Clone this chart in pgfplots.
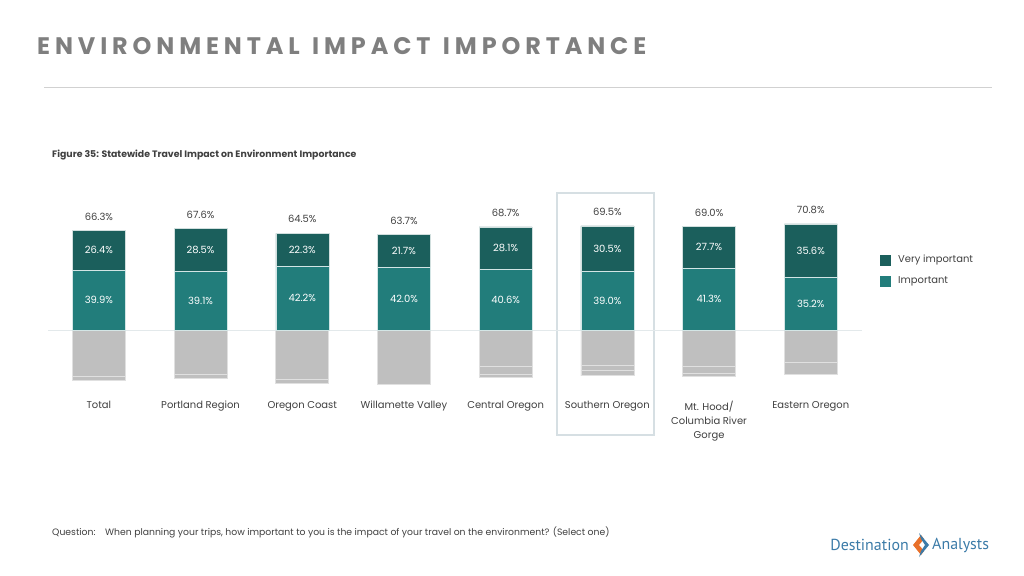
\documentclass[border=0pt]{standalone}
\usepackage{fontspec}
\setmainfont{Poppins}
\newfontfamily\logofont{PT Sans}
\usepackage{pgfplots}
\pgfplotsset{compat=1.18}
\usepackage{pgfplotstable}
\definecolor{vimp}{HTML}{1B5F5C}
\definecolor{imp}{HTML}{227D7B}
\definecolor{grayb}{HTML}{BFBFBF}
\definecolor{txt}{HTML}{404040}
\definecolor{titlec}{HTML}{7F7F7F}
\definecolor{framec}{HTML}{D6DFE3}
\definecolor{basec}{HTML}{E3E9EB}
\definecolor{logob}{HTML}{3B7BA8}
\definecolor{logoo}{HTML}{E8702A}

\pgfplotstableread{
x imp vi tot g1 g2 g3
0 39.9 26.4 66.3 -30.8 -2.9 0
1 39.1 28.5 67.6 -29.3 -3.1 0
2 42.2 22.3 64.5 -32.7 -2.8 0
3 42.0 21.7 63.7 -36.3 0 0
4 40.6 28.1 68.7 -24.0 -5.3 -2.0
5 39.0 30.5 69.5 -23.3 -3.8 -3.4
6 41.3 27.7 69.0 -24.0 -4.9 -2.1
7 35.2 35.6 70.8 -21.5 -7.7 0
}\data

\pgfplotsset{base/.style={
  scale only axis, width=813.6bp, height=185bp,
  at={(48bp,-395bp)}, anchor=south west,
  xmin=-0.5, xmax=7.5, ymin=-43.3333, ymax=80,
  axis line style={draw=none}, tick style={draw=none},
  ytick=\empty, xtick=\empty, clip=false,
  bar width=53bp,
}}

\begin{document}
\begin{tikzpicture}
\path[fill=white] (0,0) rectangle (1024bp,-576bp);

% title
\node[anchor=west, text=titlec, inner sep=0] at (37bp,-46bp)
  {\fontsize{24}{28}\selectfont\bfseries\addfontfeature{LetterSpace=20.5}ENVIRONMENTAL\hspace{0.1em} IMPACT\hspace{0.1em} IMPORTANCE};
\draw[color=black!18, line width=1bp] (44bp,-87bp) -- (992bp,-87bp);

\node[anchor=west, text=txt, inner sep=0] at (52bp,-155bp)
  {\fontsize{9.4}{11}\selectfont\bfseries Figure 35: Statewide Travel Impact on Environment Importance};

% highlight frame
\draw[color=framec, line width=1.5bp] (557bp,-193bp) rectangle (654bp,-435bp);

% gray bars
\begin{axis}[base, ybar stacked]
\draw[color=basec, line width=1bp] (axis cs:-0.5,0) -- (axis cs:7.5,0);
\addplot[fill=grayb, draw=black!12, line width=0.6bp] table[x=x,y=g1]{\data};
\addplot[fill=grayb, draw=black!12, line width=0.6bp] table[x=x,y=g2]{\data};
\addplot[fill=grayb, draw=black!12, line width=0.6bp] table[x=x,y=g3]{\data};
\end{axis}

% teal bars
\begin{axis}[base, ybar stacked,
  xtick=data,
  xticklabels={Total,Portland Region,Oregon Coast,Willamette Valley,Central Oregon,Southern Oregon,{Mt. Hood/\\Columbia River\\Gorge},Eastern Oregon},
  x tick label style={font=\fontsize{10}{14}\selectfont, text=txt, align=center, anchor=north, inner sep=0pt, yshift=-6bp},
  ]
\addplot[fill=imp, draw=white!80!imp, line width=0.5bp]
  table[x=x,y=imp]{\data};
\addplot[fill=vimp, draw=white!80!vimp, line width=0.5bp]
  table[x=x,y=vi]{\data};
\end{axis}

% value labels
\begin{axis}[base,
  nodes near coords={\pgfmathprintnumber[fixed,fixed zerofill,precision=1,assume math mode=true]{\pgfplotspointmeta}\%},
  point meta=explicit,
  every node near coord/.append style={font=\fontsize{10}{12}\selectfont, anchor=center},
  ]
\addplot[draw=none, mark=none, every node near coord/.append style={text=white}]
  table[x=x,y expr=\thisrow{imp}/2,meta=imp]{\data};
\addplot[draw=none, mark=none, every node near coord/.append style={text=white}]
  table[x=x,y expr=\thisrow{imp}+\thisrow{vi}/2,meta=vi]{\data};
\addplot[draw=none, mark=none, every node near coord/.append style={text=txt, yshift=14bp}]
  table[x=x,y=tot,meta=tot]{\data};
\end{axis}

% legend
\fill[vimp] (880bp,-255bp) rectangle (891bp,-266bp);
\fill[imp] (880bp,-276bp) rectangle (891bp,-287bp);
\node[anchor=west, text=txt, inner sep=0, font=\fontsize{10}{12}\selectfont] at (898bp,-260.5bp) {Very important};
\node[anchor=west, text=txt, inner sep=0, font=\fontsize{10}{12}\selectfont] at (898bp,-281.5bp) {Important};

% question
\node[anchor=base west, text=txt, inner sep=0, font=\fontsize{9.3}{11}\selectfont] at (52bp,-535bp) {Question:};
\node[anchor=base west, text=txt, inner sep=0, font=\fontsize{9.3}{11}\selectfont] at (105bp,-535bp) {When planning your trips, how important to you is the impact of your travel on the environment? (Select one)};

% logo
\node[anchor=east, text=logob, inner sep=0, font=\logofont\fontsize{16}{18}\selectfont] at (909bp,-545bp) {Destination};
\fill[logoo] (921bp,-535bp) -- (913bp,-545bp) -- (921bp,-555bp) -- (924bp,-551bp) -- (919bp,-545bp) -- (924bp,-539bp) -- cycle;
\fill[logob] (919bp,-533bp) -- (929bp,-545bp) -- (919bp,-557bp) -- (921bp,-551bp) -- (925bp,-545bp) -- (921bp,-539bp) -- cycle;
\node[anchor=west, text=logob, inner sep=0, font=\logofont\fontsize{16}{18}\selectfont] at (932bp,-545bp) {Analysts};
\end{tikzpicture}
\end{document}
